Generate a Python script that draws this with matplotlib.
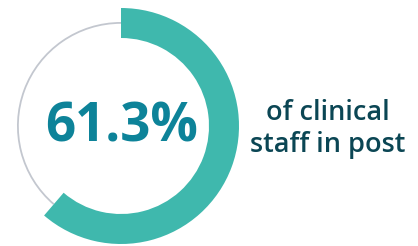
import matplotlib
matplotlib.use("Agg")
import matplotlib.pyplot as plt

# data
share = 61.3
parts = [share, 100 - share]
label_value = "61.3%"
label_text = "of clinical\nstaff in post"

teal = "#3fb8ad"
grey = "#c3c7cf"
value_col = "#0d8399"
text_col = "#0b4654"

fig = plt.figure(figsize=(4.18, 2.46), dpi=100)
ax = fig.add_axes([0, 0, 1, 1])
ax.set_xlim(0, 418)
ax.set_ylim(0, 246)
ax.axis("off")

cx, cy = 121, 120

# thin grey track for the remainder
ax.pie(parts, colors=["none", grey], startangle=90, counterclock=False,
       radius=104, center=(cx, cy), wedgeprops=dict(width=1.8, linewidth=0))
# teal arc for the share
ax.pie(parts, colors=[teal, "none"], startangle=90, counterclock=False,
       radius=118, center=(cx, cy), wedgeprops=dict(width=30, linewidth=0))
ax.set_xlim(0, 418)
ax.set_ylim(0, 246)
ax.set_aspect("auto")

ax.text(cx + 1, cy - 1, label_value, ha="center", va="center", fontsize=38,
        fontweight="bold", color=value_col, family="Open Sans")
ax.text(328, 117, label_text, ha="center", va="center", fontsize=19.5,
        fontweight="semibold", color=text_col, family="Open Sans",
        linespacing=1.2)

fig.savefig("out.png", dpi=100)
